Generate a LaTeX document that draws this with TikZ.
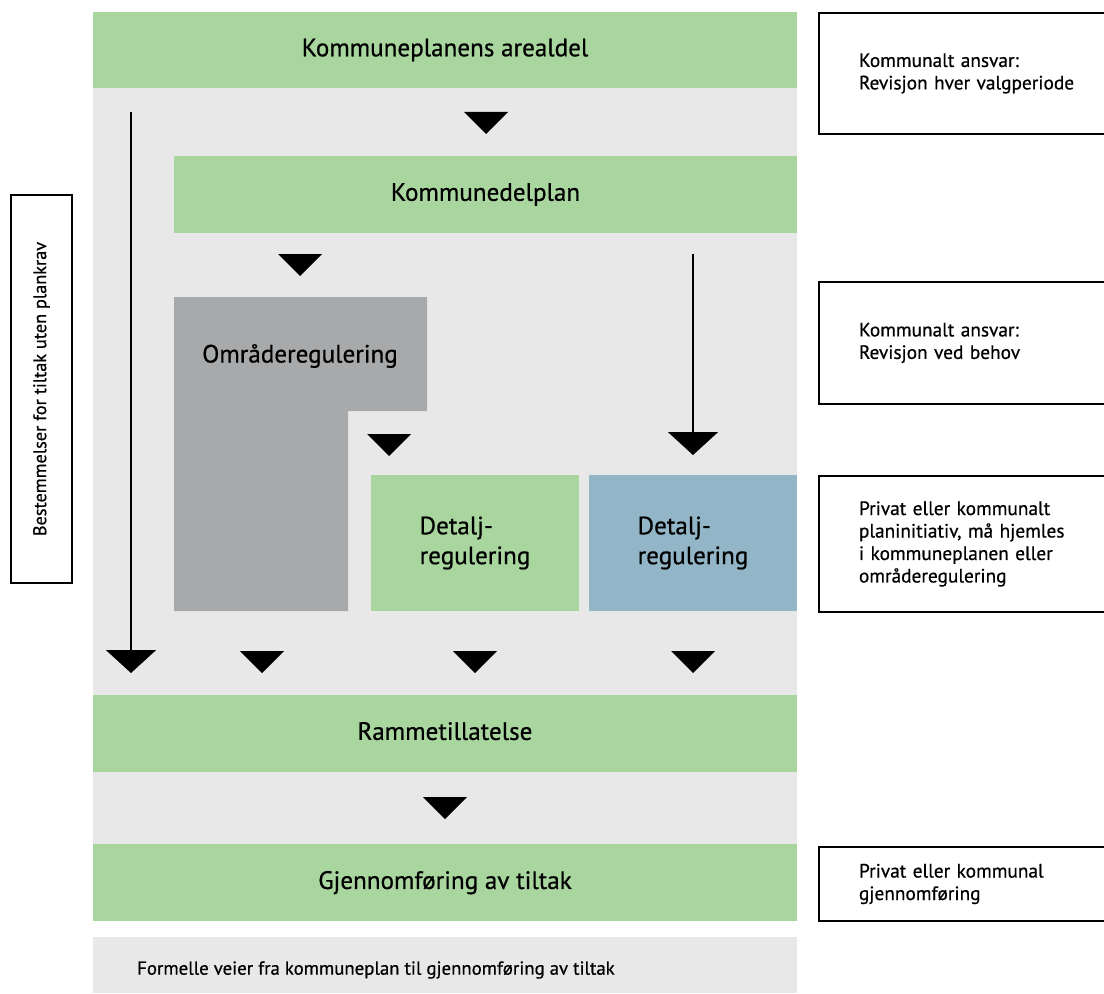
\documentclass[tikz,border=0pt]{standalone}
\usepackage{fontspec}
\setmainfont{PT Sans}[FakeBold=0.6]
\usetikzlibrary{arrows.meta}
\definecolor{plangreen}{RGB}{169,213,158}
\definecolor{planbg}{RGB}{232,232,232}
\definecolor{plangrey}{RGB}{168,169,171}
\definecolor{planblue}{RGB}{147,181,200}

\begin{document}
\begin{tikzpicture}[x=0.02cm, y=-0.02cm, >={Triangle[width=1cm,length=0.46cm]},
  every node/.style={font=\fontsize{14.3}{17}\selectfont},
  stage/.style={fill=plangreen, inner sep=0pt, minimum height=1.53cm, text depth=0.1cm},
  detalj/.style={inner sep=0pt, minimum width=4.16cm, minimum height=2.72cm, align=left},
  note/.style={draw, line width=1.1pt, anchor=north west, inner xsep=0.8cm, text width=4.6cm,
    minimum width=6.2cm, align=left, font=\fontsize{11}{12.8}\selectfont}]
\useasboundingbox (0,0) rectangle (1104,993);

% background of the plan levels
\fill[planbg] (93,12) rectangle (797,921);
\fill[planbg] (93,937) rectangle (797,993);

\node[stage, minimum width=14.08cm] (arealdel) at (445,50) {Kommuneplanens arealdel};
\node[stage, minimum width=12.46cm] (delplan) at (485.5,194.5) {Kommunedelplan};

% omraaderegulering (L-shape)
\fill[plangrey] (174,297) -- (427,297) -- (427,411) -- (348,411) -- (348,611) -- (174,611) -- cycle;
\node (omrade) at (300,356) {Områderegulering};

\node[detalj, fill=plangreen] (detaljA) at (475,543) {Detalj-\\regulering};
\node[detalj, fill=planblue] (detaljB) at (693,543) {Detalj-\\regulering};

\node[stage, minimum width=14.08cm] (ramme) at (445,733.5) {Rammetillatelse};
\node[stage, minimum width=14.08cm] (tiltak) at (445,882.5) {Gjennomføring av tiltak};

\node[anchor=west, font=\fontsize{10.7}{12}\selectfont] (caption) at (131,970)
  {Formelle veier fra kommuneplan til gjennomføring av tiltak};

% small flow markers
\foreach \x/\y in {486/112, 300/254, 389/434, 262/651, 475/651, 693/651, 445/797}
  \fill (\x-22,\y) -- (\x+22,\y) -- (\x,\y+22) -- cycle;

% long arrows
\coordinate (bypassA) at (131,112);
\coordinate (bypassB) at (131,673);
\coordinate (directA) at (693,254);
\coordinate (directB) at (693,455);
\draw[->, line width=1.1pt] (bypassA) -- (bypassB);
\draw[->, line width=1.1pt] (directA) -- (directB);

% side notes
\node[note, minimum height=2.42cm] (noteA) at (818,12)
  {Kommunalt ansvar:\\Revisjon hver valgperiode};
\node[note, minimum height=2.44cm] (noteB) at (818,281)
  {Kommunalt ansvar:\\Revisjon ved behov};
\node[note, minimum height=2.72cm] (noteC) at (818,475)
  {Privat eller kommunalt\\planinitiativ, må hjemles\\i kommuneplanen eller\\områderegulering};
\node[note, minimum height=1.48cm] (noteD) at (818,846)
  {Privat eller kommunal\\gjennomføring};

\node[draw, line width=1.1pt, rotate=90, minimum width=7.76cm, minimum height=1.22cm,
  font=\fontsize{10.4}{12}\selectfont] (plankrav) at (41.5,389) {Bestemmelser for tiltak uten plankrav};

\end{tikzpicture}
\end{document}
